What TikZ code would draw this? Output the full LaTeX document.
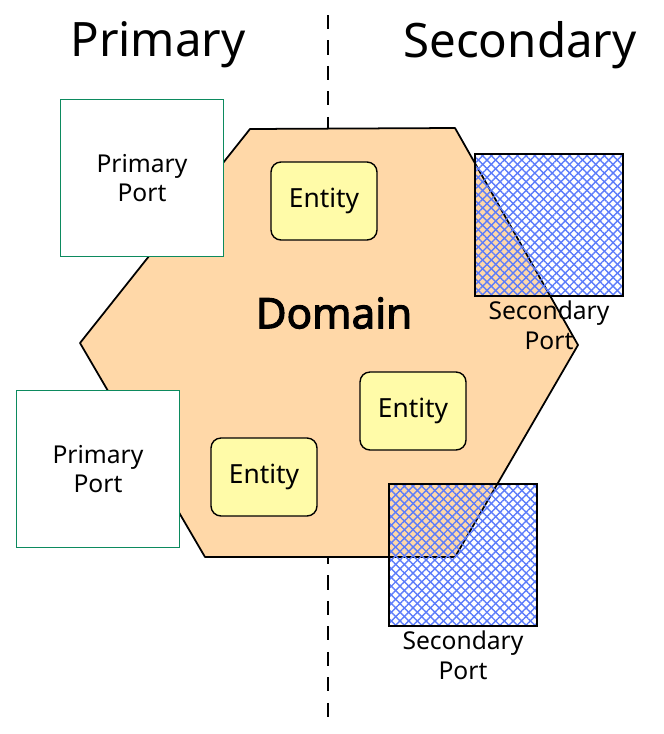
\documentclass[tikz,border=0pt]{standalone}
\usepackage{fontspec}
\setmainfont{Noto Sans}[BoldFont={Noto Sans}, BoldFeatures={FakeBold=2.5}]
\usetikzlibrary{positioning,patterns.meta}
\definecolor{domainColor}{HTML}{FFD8A8}
\definecolor{entityColor}{HTML}{FFFBA8}
\definecolor{primaryColor}{HTML}{0C8A5E}
\definecolor{secondaryColor}{HTML}{5C7CFA}

\begin{document}
\begin{tikzpicture}[x=0.02cm, y=-0.02cm,
    title/.style={font=\fontsize{27}{30}\selectfont},
    divider/.style={line width=1.2pt, dash pattern=on 8pt off 6.5pt},
    hexagon/.style={draw=black, line width=1pt, fill=domainColor, line join=round},
    entity/.style={draw=black, line width=0.8pt, fill=entityColor, rounded corners=0.2cm, minimum width=2.12cm, minimum height=1.56cm, font=\fontsize{15}{18}\selectfont},
    primaryport/.style={draw=primaryColor, line width=1pt, fill=white, minimum width=3.26cm, minimum height=3.14cm, align=center, font=\fontsize{14}{17}\selectfont},
    secondaryport/.style={draw=black, line width=1pt, minimum width=2.96cm, minimum height=2.84cm,
        preaction={pattern={Lines[angle=45, distance=3.5pt, line width=0.8pt]}, pattern color=secondaryColor},
        pattern={Lines[angle=-45, distance=3.5pt, line width=0.8pt]}, pattern color=secondaryColor},
    portlabel/.style={align=center, inner sep=2pt, font=\fontsize{14}{17}\selectfont}]
    \useasboundingbox (0,0) rectangle (663,734);
    % divider between the two sides
    \coordinate (divtop) at (328,15);
    \coordinate (divbottom) at (328,725);
    \draw[divider] (divtop) -- (divbottom);
    \node[title] (primarytitle) at (158,45) {Primary};
    \node[title] (secondarytitle) at (520,45) {Secondary};
    % the hexagon
    \draw[hexagon] (250,129) -- (455,128) -- (578,345) -- (455,557) -- (205,557) -- (80,343) -- cycle;
    \node[font=\fontsize{24}{28}\selectfont\bfseries] (domain) at (334,313) {Domain};
    \node[entity] (entityA) at (324,201) {Entity};
    \node[entity] (entityB) at (413,411) {Entity};
    \node[entity] (entityC) at (264,477) {Entity};
    % ports
    \node[primaryport] (primaryA) at (142,178) {Primary\\Port};
    \node[primaryport] (primaryB) at (98,469) {Primary\\Port};
    \node[secondaryport] (secondaryA) at (549,225) {};
    \node[portlabel, below=0pt of secondaryA] (secondaryAlabel) {Secondary\\Port};
    \node[secondaryport] (secondaryB) at (463,555) {};
    \node[portlabel, below=0pt of secondaryB] (secondaryBlabel) {Secondary\\Port};
\end{tikzpicture}
\end{document}
